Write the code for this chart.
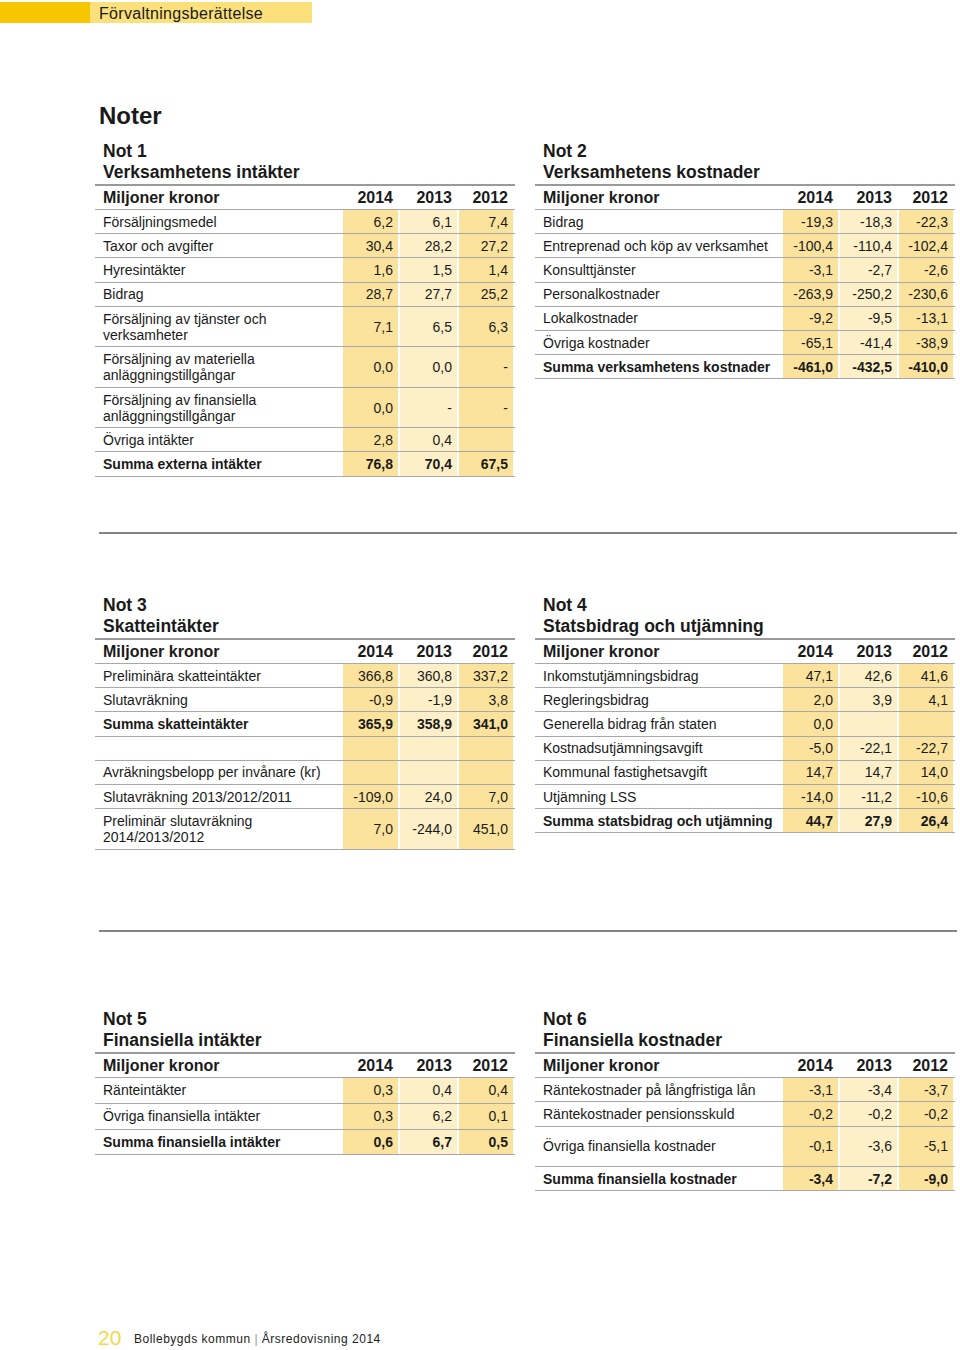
<!DOCTYPE html>
<html lang="sv">
<head>
<meta charset="utf-8">
<title>Noter</title>
<script src="https://cdn.jsdelivr.net/npm/chart.js@4.4.0/dist/chart.umd.min.js"></script>
<style>
    html, body { margin: 0; padding: 0; background: #fff; }
    body { width: 960px; height: 1350px; position: relative; font-family: "Liberation Sans", Arial, sans-serif; color: #1a1a1a; overflow: hidden; }
    .band-dark { position: absolute; left: 0; top: 2px; width: 90px; height: 21px; background: #f6c700; }
    .band-light { position: absolute; left: 90px; top: 2px; width: 222px; height: 21px; background: #fbe07c; }
    .band-text { position: absolute; left: 99px; top: 3px; height: 21px; line-height: 21px; font-size: 16px; letter-spacing: 0.3px; }
    .page-title { position: absolute; left: 99px; top: 101px; font-size: 24px; font-weight: bold; line-height: 30px; }
    .note { position: absolute; width: 420px; }
    .note-title { padding-left: 8px; padding-top: 2px; font-size: 17.5px; font-weight: bold; line-height: 21px; height: 43px; }
    .tbl { border-top: 2px solid #9a9a9a; }
    .row { display: flex; border-bottom: 1px solid #a8a8a8; box-sizing: border-box; }
    .cell { display: flex; align-items: center; box-sizing: border-box; }
    .lbl { width: 248px; padding-left: 8px; font-size: 14px; line-height: 16px; white-space: pre-line; }
    .num { justify-content: flex-end; padding-right: 5px; font-size: 14px; }
    .c0 { width: 55px; }
    .c1 { width: 57px; margin-left: 2px; }
    .c2 { width: 54px; margin-left: 2px; }
    .dark { background: #fbe39d; }
    .light { background: #fdf0c8; }
    .head .cell { font-size: 16px; font-weight: bold; }
    .sum .cell { font-weight: bold; }
    .rule { position: absolute; left: 99px; width: 858px; height: 2px; background: #858585; }
    .footer-num { position: absolute; left: 98px; top: 1326px; font-size: 21px; line-height: 24px; color: #f1d94a; }
    .footer-text { position: absolute; left: 134px; top: 1331px; font-size: 12px; line-height: 16px; letter-spacing: 0.5px; color: #222; }
</style>
</head>
<body>
<div class="band-dark"></div>
<div class="band-light"></div>
<div class="band-text">Förvaltningsberättelse</div>
<div class="page-title">Noter</div>
<div class="rule" style="top:532px"></div>
<div class="rule" style="top:930px"></div>
<div class="footer-num">20</div>
<div class="footer-text">Bollebygds kommun <span style="color:#999">|</span> Årsredovisning 2014</div>
<div id="notes"></div>

<script>
// Gemensamma kolumnrubriker
const unitLabel = 'Miljoner kronor';
const years = ['2014', '2013', '2012'];

// Not 1 Verksamhetens intäkter
const not1Rows = ['Försäljningsmedel', 'Taxor och avgifter', 'Hyresintäkter', 'Bidrag',
    'Försäljning av tjänster och\nverksamheter', 'Försäljning av materiella\nanläggningstillgångar',
    'Försäljning av finansiella\nanläggningstillgångar', 'Övriga intäkter', 'Summa externa intäkter'];
const not1_2014 = [6.2, 30.4, 1.6, 28.7, 7.1, 0.0, 0.0, 2.8, 76.8];
const not1_2013 = [6.1, 28.2, 1.5, 27.7, 6.5, 0.0, '-', 0.4, 70.4];
const not1_2012 = [7.4, 27.2, 1.4, 25.2, 6.3, '-', '-', null, 67.5];

// Not 2 Verksamhetens kostnader
const not2Rows = ['Bidrag', 'Entreprenad och köp av verksamhet', 'Konsulttjänster', 'Personalkostnader',
    'Lokalkostnader', 'Övriga kostnader', 'Summa verksamhetens kostnader'];
const not2_2014 = [-19.3, -100.4, -3.1, -263.9, -9.2, -65.1, -461.0];
const not2_2013 = [-18.3, -110.4, -2.7, -250.2, -9.5, -41.4, -432.5];
const not2_2012 = [-22.3, -102.4, -2.6, -230.6, -13.1, -38.9, -410.0];

// Not 3 Skatteintäkter
const not3Rows = ['Preliminära skatteintäkter', 'Slutavräkning', 'Summa skatteintäkter', '',
    'Avräkningsbelopp per invånare (kr)', 'Slutavräkning 2013/2012/2011', 'Preliminär slutavräkning\n2014/2013/2012'];
const not3_2014 = [366.8, -0.9, 365.9, null, null, -109.0, 7.0];
const not3_2013 = [360.8, -1.9, 358.9, null, null, 24.0, -244.0];
const not3_2012 = [337.2, 3.8, 341.0, null, null, 7.0, 451.0];

// Not 4 Statsbidrag och utjämning
const not4Rows = ['Inkomstutjämningsbidrag', 'Regleringsbidrag', 'Generella bidrag från staten',
    'Kostnadsutjämningsavgift', 'Kommunal fastighetsavgift', 'Utjämning LSS', 'Summa statsbidrag och utjämning'];
const not4_2014 = [47.1, 2.0, 0.0, -5.0, 14.7, -14.0, 44.7];
const not4_2013 = [42.6, 3.9, null, -22.1, 14.7, -11.2, 27.9];
const not4_2012 = [41.6, 4.1, null, -22.7, 14.0, -10.6, 26.4];

// Not 5 Finansiella intäkter
const not5Rows = ['Ränteintäkter', 'Övriga finansiella intäkter', 'Summa finansiella intäkter'];
const not5_2014 = [0.3, 0.3, 0.6];
const not5_2013 = [0.4, 6.2, 6.7];
const not5_2012 = [0.4, 0.1, 0.5];

// Not 6 Finansiella kostnader
const not6Rows = ['Räntekostnader på långfristiga lån', 'Räntekostnader pensionsskuld',
    'Övriga finansiella kostnader', 'Summa finansiella kostnader'];
const not6_2014 = [-3.1, -0.2, -0.1, -3.4];
const not6_2013 = [-3.4, -0.2, -3.6, -7.2];
const not6_2012 = [-3.7, -0.2, -5.1, -9.0];

const notes = [
    { title: 'Not 1\nVerksamhetens intäkter', rows: not1Rows, cols: [not1_2014, not1_2013, not1_2012] },
    { title: 'Not 2\nVerksamhetens kostnader', rows: not2Rows, cols: [not2_2014, not2_2013, not2_2012] },
    { title: 'Not 3\nSkatteintäkter', rows: not3Rows, cols: [not3_2014, not3_2013, not3_2012] },
    { title: 'Not 4\nStatsbidrag och utjämning', rows: not4Rows, cols: [not4_2014, not4_2013, not4_2012] },
    { title: 'Not 5\nFinansiella intäkter', rows: not5Rows, cols: [not5_2014, not5_2013, not5_2012] },
    { title: 'Not 6\nFinansiella kostnader', rows: not6Rows, cols: [not6_2014, not6_2013, not6_2012] }
];

// placering på sidan
const layout = [
    { left: 95, top: 139, rowH: 24.2 },
    { left: 535, top: 139, rowH: 24.2 },
    { left: 95, top: 593, rowH: 24.2 },
    { left: 535, top: 593, rowH: 24.2 },
    { left: 95, top: 1007, rowH: 25.8 },
    { left: 535, top: 1007, rowH: 24.3, tall: [2] }
];

function fmt(v) {
    if (v === null || v === undefined) return '';
    if (typeof v === 'string') return v;
    return v.toFixed(1).replace('.', ',');
}

function buildNote(note, pos) {
    const box = document.createElement('div');
    box.className = 'note';
    box.style.left = pos.left + 'px';
    box.style.top = pos.top + 'px';

    const title = document.createElement('div');
    title.className = 'note-title';
    title.style.whiteSpace = 'pre-line';
    title.textContent = note.title;
    box.appendChild(title);

    const tbl = document.createElement('div');
    tbl.className = 'tbl';

    const head = document.createElement('div');
    head.className = 'row head';
    head.style.height = '24px';
    head.innerHTML = `<div class="cell lbl">${unitLabel}</div>` +
        years.map((y, i) => `<div class="cell num c${i}">${y}</div>`).join('');
    tbl.appendChild(head);

    note.rows.forEach((label, r) => {
        const row = document.createElement('div');
        row.className = 'row' + (label.startsWith('Summa') ? ' sum' : '');
        const big = label.includes('\n') || (pos.tall && pos.tall.includes(r));
        row.style.height = (big ? 40.5 : pos.rowH) + 'px';

        const lbl = document.createElement('div');
        lbl.className = 'cell lbl';
        lbl.textContent = label;
        row.appendChild(lbl);

        note.cols.forEach((col, i) => {
            const c = document.createElement('div');
            c.className = `cell num c${i} ` + (i === 1 ? 'light' : 'dark');
            c.textContent = fmt(col[r]);
            row.appendChild(c);
        });
        tbl.appendChild(row);
    });

    box.appendChild(tbl);
    return box;
}

const holder = document.getElementById('notes');
notes.forEach((n, i) => holder.appendChild(buildNote(n, layout[i])));
</script>
</body>
</html>
